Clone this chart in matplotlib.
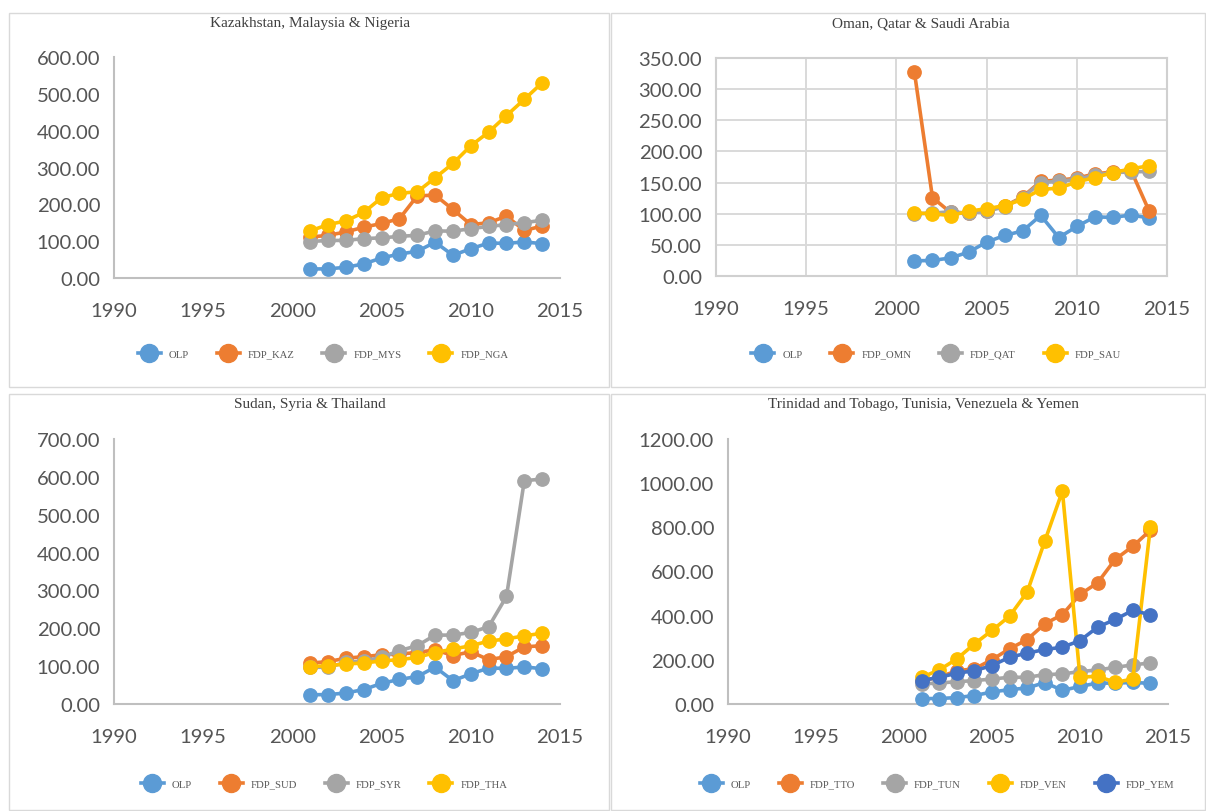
import matplotlib
matplotlib.use("Agg")
import matplotlib.pyplot as plt
from matplotlib.patches import Rectangle

years = list(range(2001, 2015))

olp = [24.4, 24.9, 29.0, 38.3, 54.4, 65.1, 72.4, 97.3, 61.7, 79.5, 94.9, 94.1, 97.9, 93.3]

fdp_kaz = [111, 116, 125, 138, 148, 161, 223, 225, 186, 145, 150, 168, 129, 141]
fdp_mys = [99, 102, 102, 107, 109, 113, 116, 128, 127, 134, 140, 145, 150, 157]
fdp_nga = [128, 145, 155, 178, 218, 230, 234, 272, 311, 359, 396, 441, 485, 530]

fdp_omn = [327, 126, 102, 101, 105, 112, 127, 152, 154, 157, 164, 167, 170, 105]
fdp_qat = [100, 101, 103, 101, 104, 111, 126, 150, 152, 155, 162, 166, 167, 168]
fdp_sau = [101, 100, 97, 104, 108, 113, 123, 139, 141, 151, 158, 166, 172, 177]

fdp_sud = [108, 112, 121, 125, 130, 132, 136, 143, 128, 138, 117, 125, 151, 154]
fdp_syr = [97, 97, 110, 114, 123, 141, 154, 182, 182, 189, 204, 284, 590, 594]
fdp_tha = [99, 101, 106, 108, 114, 117, 123, 136, 145, 154, 166, 172, 180, 187]

fdp_tto = [106, 121, 151, 159, 201, 250, 292, 363, 405, 496, 549, 655, 714, 787]
fdp_tun = [91, 95, 101, 106, 113, 121, 121, 133, 136, 147, 154, 166, 177, 186]
fdp_ven = [121, 154, 204, 272, 333, 398, 507, 738, 964, 121, 126, 98, 113, 802]
fdp_yem = [106, 121, 139, 151, 174, 212, 230, 247, 257, 287, 348, 383, 424, 404]

titles = ["Kazakhstan, Malaysia & Nigeria", "Oman, Qatar & Saudi Arabia",
          "Sudan, Syria & Thailand", "Trinidad and Tobago, Tunisia, Venezuela & Yemen"]

colors = ["#5B9BD5", "#ED7D31", "#A5A5A5", "#FFC000", "#4472C4"]

W, H = 1206, 812


def px_axes(fig, left, right, top, bottom):
    return fig.add_axes([left / W, 1 - bottom / H, (right - left) / W, (bottom - top) / H])


def draw_panel(fig, box, series, names, ymax, ystep, title, title_xy, leg_xy, grid=False):
    ax = px_axes(fig, *box)
    for i, (vals, name) in enumerate(zip(series, names)):
        ax.plot(years, vals, color=colors[i], lw=2.6, marker="o", ms=9.6,
                label=name, zorder=3 + i, clip_on=False)
    ax.set_xlim(1990, 2015)
    ax.set_ylim(0, ymax)
    ax.set_xticks(range(1990, 2016, 5))
    yt = list(range(0, ymax + 1, ystep))
    ax.set_yticks(yt)
    ax.set_yticklabels([f"{v:.2f}" for v in yt])
    ax.tick_params(length=0, labelsize=14.6, labelcolor="#555555")
    ax.tick_params(axis="y", pad=10)
    ax.tick_params(axis="x", pad=17)
    for lab in ax.get_xticklabels() + ax.get_yticklabels():
        lab.set_family("Lato")
    for s in ["top", "right"]:
        ax.spines[s].set_visible(grid)
    for s in ax.spines.values():
        s.set_color("#D0D0D0" if grid else "#BFBFBF")
        s.set_linewidth(1.5)
    if grid:
        ax.grid(True, color="#D9D9D9", lw=1.4)
        ax.set_axisbelow(True)
    ax.patch.set_alpha(0)
    fig.text(title_xy[0] / W, 1 - title_xy[1] / H, title, ha="center", va="center",
             family="Liberation Serif", fontsize=11, color="#404040")
    ax.legend(loc="center", bbox_to_anchor=(leg_xy[0] / W, 1 - leg_xy[1] / H),
              bbox_transform=fig.transFigure, ncol=len(names), frameon=False,
              handlelength=2.15, columnspacing=2.6, handletextpad=0.75, markerscale=1.35,
              prop={"family": "Liberation Serif", "size": 7.7}, labelcolor="#595959")
    return ax


fig = plt.figure(figsize=(W / 100, H / 100), dpi=100)

for x0, y0, x1, y1 in [(9, 14, 609, 388), (611, 14, 1205, 388),
                       (9, 395, 609, 811), (611, 395, 1205, 811)]:
    fig.add_artist(Rectangle((x0 / W, 1 - y1 / H), (x1 - x0) / W, (y1 - y0) / H,
                             transform=fig.transFigure, fill=False,
                             edgecolor="#D9D9D9", lw=1))

draw_panel(fig, (114, 560, 58, 279), [olp, fdp_kaz, fdp_mys, fdp_nga],
           ["OLP", "FDP_KAZ", "FDP_MYS", "FDP_NGA"], 600, 100,
           titles[0], (310, 24), (323, 355))
draw_panel(fig, (716, 1167, 59, 277), [olp, fdp_omn, fdp_qat, fdp_sau],
           ["OLP", "FDP_OMN", "FDP_QAT", "FDP_SAU"], 350, 50,
           titles[1], (921, 24), (936, 355), grid=True)
draw_panel(fig, (114, 560, 440, 705), [olp, fdp_sud, fdp_syr, fdp_tha],
           ["OLP", "FDP_SUD", "FDP_SYR", "FDP_THA"], 700, 100,
           titles[2], (310, 405), (324, 785))
draw_panel(fig, (728, 1168, 440, 705), [olp, fdp_tto, fdp_tun, fdp_ven, fdp_yem],
           ["OLP", "FDP_TTO", "FDP_TUN", "FDP_VEN", "FDP_YEM"], 1200, 200,
           titles[3], (923, 405), (937, 785))

fig.savefig("out.png", dpi=100)
